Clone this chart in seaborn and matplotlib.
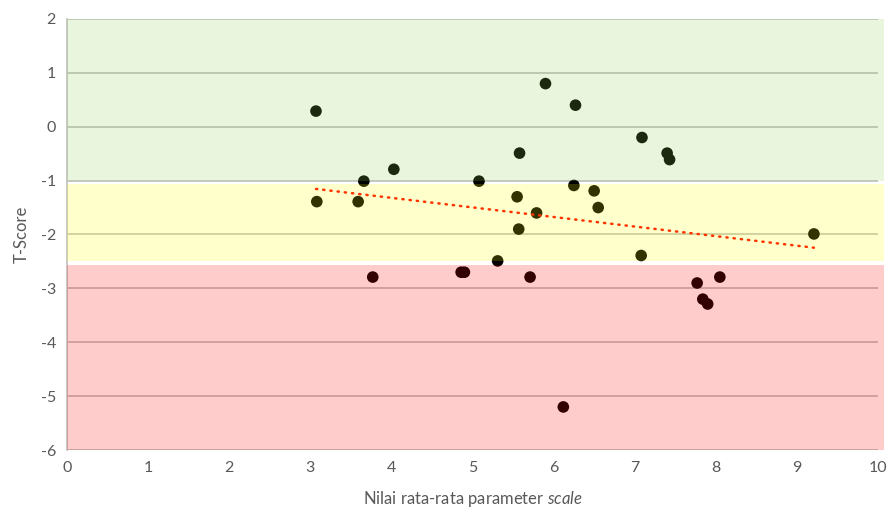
import numpy as np
import pandas as pd
import matplotlib
matplotlib.use("Agg")
import matplotlib.pyplot as plt
import seaborn as sns

# Mean scale parameter per sample and its T-score
scale_mean = [3.07, 3.08, 3.59, 3.66, 3.77, 4.03, 4.86, 4.90, 5.08, 5.31,
              5.55, 5.58, 5.57, 5.71, 5.79, 5.90, 6.12, 6.25, 6.27, 6.50,
              6.55, 7.09, 7.08, 7.40, 7.43, 7.77, 7.84, 7.90, 8.05, 9.21]
t_score = [0.29, -1.39, -1.39, -1.01, -2.79, -0.79, -2.70, -2.70, -1.01, -2.49,
           -1.30, -0.49, -1.90, -2.79, -1.60, 0.80, -5.20, -1.09, 0.40, -1.19,
           -1.50, -0.20, -2.39, -0.49, -0.61, -2.90, -3.20, -3.29, -2.79, -1.99]

# T-score classification bands (lower, upper, colour)
band_low = [-1.0, -2.49, -6.0]
band_high = [2.0, -1.07, -2.56]
band_color = ["#92D050", "#FFFF00", "#FF0000"]

x_ticks = list(range(0, 11))
y_ticks = list(range(-6, 3))

df = pd.DataFrame({"scale": scale_mean, "t": t_score})

sns.set_theme(style="white")
plt.rcParams["font.family"] = ["Lato", "DejaVu Sans"]
plt.rcParams["axes.unicode_minus"] = False
plt.rcParams["mathtext.fontset"] = "custom"
plt.rcParams["mathtext.rm"] = "Lato"
plt.rcParams["mathtext.it"] = "Lato:italic"

fig = plt.figure(figsize=(8.9, 5.12), dpi=100)
ax = fig.add_axes([0.0753, 0.121, 0.9112, 0.842])

sns.scatterplot(data=df, x="scale", y="t", ax=ax, color="black", s=70,
                edgecolor="none", zorder=2, legend=False)

# translucent bands laid over the grid and the markers
for lo, hi, c in zip(band_low, band_high, band_color):
    ax.axhspan(lo, hi, xmin=0, xmax=1.007, color=c, alpha=0.2, lw=0,
               zorder=3, clip_on=False)

# linear trend line across the data range
coef = np.polyfit(df["scale"], df["t"], 1)
xs = np.array([df["scale"].min(), df["scale"].max()])
sns.lineplot(x=xs, y=np.polyval(coef, xs), ax=ax, color="#FF3300", lw=1.8,
             linestyle=(0, (0.5, 2.4)), zorder=4)
ax.lines[-1].set_dash_capstyle("round")

ax.set_xlim(0, 10)
ax.set_ylim(-6, 2)
ax.set_xticks(x_ticks)
ax.set_yticks(y_ticks)
ax.grid(axis="y", color="#BFBFBF", lw=1.2, zorder=1)
ax.grid(axis="x", visible=False)
ax.set_axisbelow(True)
for side in ["top", "right", "bottom"]:
    ax.spines[side].set_visible(False)
ax.spines["left"].set_color("#BFBFBF")
ax.spines["left"].set_linewidth(1.2)
ax.tick_params(axis="both", length=0, labelsize=11.5, labelcolor="#595959", pad=8)

ax.set_ylabel("T-Score", fontsize=12, color="#595959", labelpad=8)
ax.set_xlabel("Nilai rata-rata parameter $\\mathit{scale}$", fontsize=12,
              color="#595959", labelpad=10)

fig.savefig("out.png", dpi=100)
